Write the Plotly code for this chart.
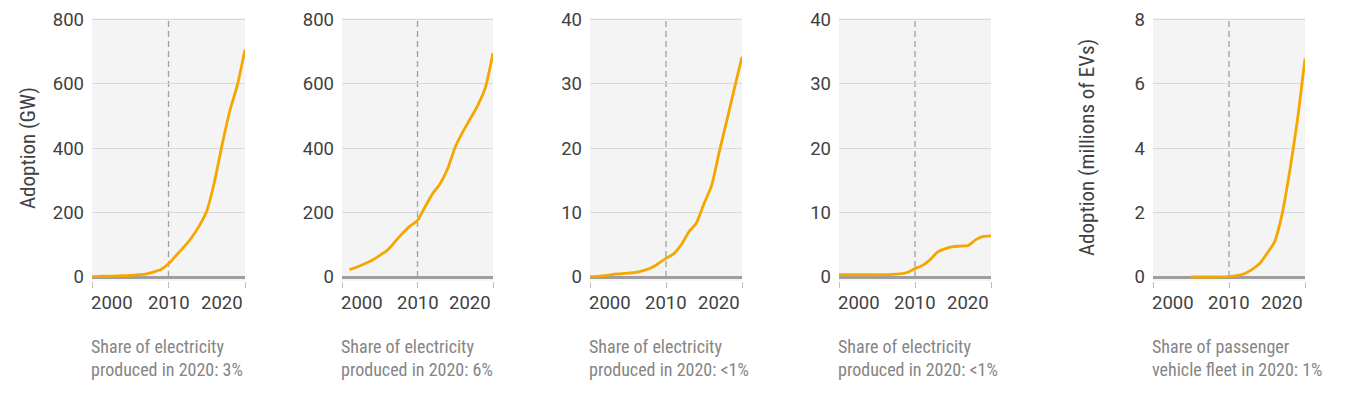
import plotly.graph_objects as go

# ---------------- data ----------------
years_solar = list(range(2000, 2021))
solar_gw = [1, 2, 2.5, 3, 4, 5, 7, 9, 15, 23, 41, 67, 93, 122, 158, 205, 295, 410, 515, 596, 707]

years_wind = list(range(2001, 2021))
wind_gw = [23, 31, 41, 52, 67, 83, 109, 135, 158, 176, 218, 259, 290, 337, 404, 451, 492, 534, 589, 696]

years_offshore = list(range(2000, 2021))
offshore_gw = [0.05, 0.1, 0.2, 0.4, 0.5, 0.6, 0.7, 1.0, 1.4, 2.1, 2.9, 3.6, 5.0, 7.0, 8.4, 11.4, 14.2, 19.4, 24.3, 29.3, 34.2]

years_csp = list(range(2000, 2021))
csp_gw = [0.35, 0.35, 0.35, 0.35, 0.35, 0.35, 0.36, 0.4, 0.5, 0.7, 1.3, 1.8, 2.7, 3.9, 4.4, 4.7, 4.8, 4.9, 5.8, 6.3, 6.4]

years_ev = list(range(2005, 2021))
ev_millions = [0.0, 0.0, 0.0, 0.0, 0.005, 0.01, 0.04, 0.1, 0.23, 0.41, 0.73, 1.09, 1.97, 3.3, 4.87, 6.79]

x_tickvals = [2000, 2010, 2020]
x_ticktext = ["2000", "2010", "2020"]
y_ticks_gw = [0, 200, 400, 600, 800]
y_ticks_small = [0, 10, 20, 30, 40]
y_ticks_ev = [0, 2, 4, 6, 8]

captions = [
    "Share of electricity<br>produced in 2020: 3%",
    "Share of electricity<br>produced in 2020: 6%",
    "Share of electricity<br>produced in 2020: <1%",
    "Share of electricity<br>produced in 2020: <1%",
    "Share of passenger<br>vehicle fleet in 2020: 1%",
]
y_titles = {0: "Adoption (GW)", 4: "Adoption (millions of EVs)"}

# ---------------- layout helpers ----------------
W, H = 1347, 411
FONT = "Liberation Sans Narrow, Roboto Condensed, Arial Narrow, Roboto, sans-serif"
TICK_FONT = "Roboto, sans-serif"
ORANGE = "#F5A700"
TICK_C = "#404040"
CAP_C = "#858585"

panels_px = [(92, 245), (342, 493), (590, 742), (839, 991), (1153, 1305)]
plot_top_px, plot_bot_px = 18, 281
zero_px, topgrid_px = 277, 19.5

series = [
    (years_solar, solar_gw, y_ticks_gw),
    (years_wind, wind_gw, y_ticks_gw),
    (years_offshore, offshore_gw, y_ticks_small),
    (years_csp, csp_gw, y_ticks_small),
    (years_ev, ev_millions, y_ticks_ev),
]

fig = go.Figure()
ydom = [1 - plot_bot_px / H, 1 - plot_top_px / H]
annotations = []
shapes = []

for i, ((xs, ys, yt), (l, r)) in enumerate(zip(series, panels_px)):
    n = "" if i == 0 else str(i + 1)
    xa, ya = "x" + n, "y" + n
    T = yt[-1]
    span = zero_px - topgrid_px
    yrange = [-(plot_bot_px - zero_px) * T / span, T + (topgrid_px - plot_top_px) * T / span]

    fig.add_trace(go.Scatter(
        x=xs, y=ys, mode="lines", xaxis=xa, yaxis=ya,
        line=dict(color=ORANGE, width=2.8, shape="spline", smoothing=0.6),
        cliponaxis=False, showlegend=False, hoverinfo="skip"))

    fig.layout["xaxis" + n] = dict(
        domain=[l / W, r / W], range=[x_tickvals[0], x_tickvals[-1]], anchor=ya,
        tickvals=x_tickvals, showticklabels=False, ticks="outside", ticklen=6,
        tickcolor="#bdbdbd", tickwidth=1, showgrid=False, zeroline=False, showline=False,
        fixedrange=True, automargin=False)
    fig.layout["yaxis" + n] = dict(
        domain=ydom, range=yrange, anchor=xa, tickvals=yt,
        ticktext=[str(v) for v in yt], ticks="", ticklabelstandoff=7,
        tickfont=dict(family=TICK_FONT, size=18.5, color=TICK_C),
        showgrid=True, gridcolor="#d9d9d9", gridwidth=1,
        zeroline=True, zerolinecolor="#9e9e9e", zerolinewidth=3,
        showline=False, fixedrange=True, automargin=False)

    # panel background
    shapes.append(dict(type="rect", xref=xa + " domain", yref=ya + " domain",
                       x0=0, x1=1, y0=0, y1=1, fillcolor="#f4f4f4",
                       line=dict(width=0), layer="below"))
    # dashed 2010 marker
    shapes.append(dict(type="line", xref=xa, yref=ya, x0=x_tickvals[1], x1=x_tickvals[1],
                       y0=0, y1=yrange[1], line=dict(color="#a0a0a0", width=1.3, dash="6px,4px"),
                       layer="below"))

    # x tick labels (first left aligned, middle centered, last right aligned)
    anchors = ["left", "center", "right"]
    shifts = [-3, 0, 0]
    for tv, tt, anc, sh in zip(x_tickvals, x_ticktext, anchors, shifts):
        annotations.append(dict(x=tv, xref=xa, y=1 - 303 / H, yref="paper", text=tt,
                                showarrow=False, xanchor=anc, yanchor="middle", xshift=sh,
                                font=dict(family=TICK_FONT, size=18.5, color=TICK_C)))
    # caption
    annotations.append(dict(x=x_tickvals[0], xref=xa, y=1 - 334 / H, yref="paper",
                            text=captions[i], showarrow=False, xanchor="left", yanchor="top",
                            align="left", xshift=-3,
                            font=dict(family=FONT, size=18, color=CAP_C)))
    if i in y_titles:
        cx = 28 if i == 0 else 1087
        annotations.append(dict(x=cx / W, xref="paper", y=1 - 148 / H, yref="paper",
                                text=y_titles[i], textangle=-90, showarrow=False,
                                xanchor="center", yanchor="middle",
                                font=dict(family=FONT, size=21, color=TICK_C)))

fig.update_layout(
    width=W, height=H, margin=dict(l=0, r=0, t=0, b=0, pad=0, autoexpand=False),
    paper_bgcolor="white", plot_bgcolor="rgba(0,0,0,0)",
    annotations=annotations, shapes=shapes, showlegend=False,
)

fig.write_html("out.html")
